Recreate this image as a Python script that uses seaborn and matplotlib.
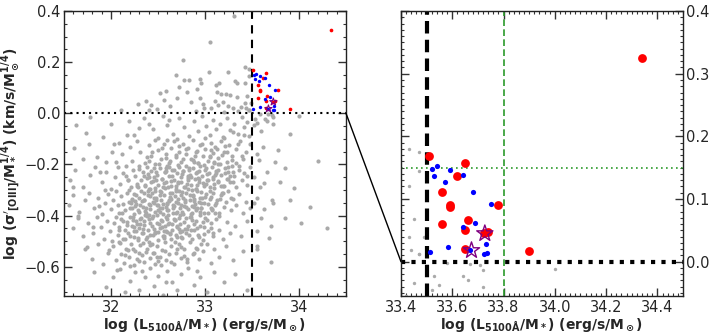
import matplotlib
matplotlib.use("Agg")
import matplotlib.pyplot as plt
from matplotlib.patches import ConnectionPatch
from matplotlib.ticker import MultipleLocator
import pandas as pd
import seaborn as sns

# parent sample (grey cloud)
cloud_top = [
    (33.31, 0.38), (33.05, 0.28), (32.77, 0.21), (33.04, 0.16), (33.24, 0.16), (33.43, 0.18),
    (33.47, 0.175), (32.69, 0.15), (32.78, 0.13), (32.83, 0.13), (32.95, 0.135), (32.96, 0.12),
    (33.15, 0.118), (33.12, 0.112), (33.32, 0.127), (33.34, 0.118), (33.43, 0.12), (33.47, 0.145),
]
cloud_upper = [
    (32.92, 0.097), (32.52, 0.078), (32.58, 0.088), (32.81, 0.084), (32.95, 0.058), (33.13, 0.084),
    (33.17, 0.075), (33.22, 0.075), (33.27, 0.072), (33.34, 0.062), (33.45, 0.068), (32.37, 0.048),
    (32.29, 0.035), (32.85, 0.044), (32.98, 0.035), (33.11, 0.05), (33.14, 0.032), (33.19, 0.045),
    (33.25, 0.03), (33.3, 0.022), (33.38, 0.025), (33.43, 0.04), (33.47, 0.012), (33.44, 0.019),
    (32.11, 0.013), (32.4, 0.013), (32.49, 0.018), (33.06, 0.022), (32.99, 0.02), (32.7, 0.06),
    (32.63, 0.03), (32.9, 0.01), (33.2, 0.005), (33.35, 0.008), (33.49, 0.039), (33.47, 0.013),
]
cloud_zero = [
    (31.78, -0.013), (32.19, -0.03), (32.0, -0.04), (31.63, -0.047), (31.91, -0.091), (32.35, -0.02),
    (32.45, -0.06), (32.55, -0.01), (32.6, -0.045), (32.66, -0.08), (32.72, -0.02), (32.78, -0.055),
    (32.83, -0.09), (32.88, -0.03), (32.93, -0.07), (32.97, -0.012), (33.01, -0.05), (33.05, -0.085),
    (33.08, -0.025), (33.12, -0.06), (33.16, -0.04), (33.2, -0.095), (33.23, -0.02), (33.27, -0.065),
    (33.31, -0.04), (33.35, -0.08), (33.39, -0.015), (33.42, -0.055), (33.45, -0.034), (33.47, -0.09),
    (33.53, -0.023), (33.55, -0.037), (33.52, -0.045), (33.58, -0.002), (33.64, -0.023), (33.67, -0.003),
    (33.71, -0.006), (33.72, -0.013), (33.66, -0.03), (33.72, -0.04), (34.0, -0.011), (32.25, -0.085),
    (32.5, -0.095), (32.4, -0.04), (32.7, -0.1), (33.0, -0.098), (33.6, -0.07), (33.9, -0.08),
]
cloud_d = [
    (31.77, -0.12), (31.61, -0.134), (32.03, -0.12), (32.08, -0.115), (31.85, -0.17), (31.95, -0.19),
    (32.12, -0.16), (32.2, -0.13), (32.22, -0.185), (32.28, -0.11), (32.31, -0.15), (32.36, -0.195),
    (32.4, -0.125), (32.43, -0.165), (32.47, -0.105), (32.5, -0.145), (32.53, -0.18), (32.56, -0.12),
    (32.59, -0.16), (32.62, -0.195), (32.64, -0.135), (32.67, -0.11), (32.69, -0.17), (32.72, -0.15),
    (32.75, -0.19), (32.77, -0.12), (32.8, -0.16), (32.82, -0.135), (32.85, -0.18), (32.87, -0.105),
    (32.9, -0.15), (32.93, -0.195), (32.95, -0.125), (32.98, -0.165), (33.0, -0.14), (33.03, -0.185),
    (33.06, -0.115), (33.08, -0.155), (33.11, -0.13), (33.14, -0.175), (33.17, -0.11), (33.2, -0.15),
    (33.23, -0.19), (33.26, -0.125), (33.29, -0.165), (33.33, -0.14), (33.37, -0.11), (33.4, -0.18),
    (33.44, -0.15), (33.48, -0.12), (33.55, -0.16), (33.62, -0.13), (33.75, -0.19), (32.6, -0.105),
    (32.88, -0.19), (33.1, -0.195), (32.38, -0.17),
]
cloud_e = [
    (31.56, -0.26), (31.62, -0.22), (31.7, -0.29), (31.78, -0.24), (31.83, -0.21), (31.9, -0.27),
    (31.95, -0.23), (32.0, -0.295), (32.04, -0.25), (32.07, -0.21), (32.1, -0.275), (32.13, -0.235),
    (32.16, -0.205), (32.18, -0.26), (32.21, -0.29), (32.23, -0.22), (32.26, -0.245), (32.28, -0.275),
    (32.3, -0.205), (32.32, -0.26), (32.34, -0.23), (32.36, -0.285), (32.38, -0.21), (32.4, -0.25),
    (32.41, -0.295), (32.43, -0.225), (32.45, -0.265), (32.47, -0.2), (32.49, -0.24), (32.5, -0.28),
    (32.52, -0.215), (32.54, -0.255), (32.55, -0.29), (32.57, -0.23), (32.59, -0.27), (32.6, -0.205),
    (32.62, -0.245), (32.64, -0.285), (32.65, -0.22), (32.67, -0.26), (32.69, -0.295), (32.7, -0.235),
    (32.72, -0.21), (32.74, -0.27), (32.75, -0.25), (32.77, -0.225), (32.79, -0.29), (32.8, -0.205),
    (32.82, -0.26), (32.84, -0.24), (32.85, -0.28), (32.87, -0.215), (32.89, -0.255), (32.9, -0.295),
    (32.92, -0.23), (32.94, -0.27), (32.95, -0.205), (32.97, -0.245), (32.99, -0.285), (33.0, -0.22),
    (33.02, -0.26), (33.04, -0.235), (33.05, -0.29), (33.07, -0.21), (33.09, -0.25), (33.1, -0.275),
    (33.12, -0.225), (33.14, -0.265), (33.16, -0.2), (33.17, -0.24), (33.19, -0.285), (33.21, -0.215),
    (33.23, -0.255), (33.25, -0.23), (33.27, -0.27), (33.29, -0.205), (33.31, -0.245), (33.33, -0.29),
    (33.36, -0.22), (33.39, -0.26), (33.42, -0.235), (33.45, -0.28), (33.48, -0.21), (33.52, -0.25),
    (33.58, -0.29), (33.66, -0.23), (33.8, -0.27), (32.48, -0.262), (32.71, -0.272), (32.93, -0.252),
    (33.11, -0.242), (32.58, -0.212), (32.83, -0.222),
]
cloud_f = [
    (31.55, -0.36), (31.6, -0.32), (31.66, -0.385), (31.72, -0.34), (31.77, -0.31), (31.82, -0.37),
    (31.86, -0.33), (31.9, -0.395), (31.94, -0.35), (31.97, -0.315), (32.0, -0.375), (32.02, -0.34),
    (32.05, -0.305), (32.07, -0.36), (32.09, -0.39), (32.11, -0.325), (32.13, -0.355), (32.15, -0.38),
    (32.17, -0.31), (32.19, -0.345), (32.2, -0.37), (32.22, -0.335), (32.24, -0.395), (32.25, -0.315),
    (32.27, -0.355), (32.29, -0.38), (32.3, -0.33), (32.32, -0.305), (32.34, -0.365), (32.35, -0.34),
    (32.37, -0.39), (32.39, -0.32), (32.4, -0.355), (32.42, -0.375), (32.44, -0.31), (32.45, -0.345),
    (32.47, -0.385), (32.48, -0.33), (32.5, -0.36), (32.52, -0.305), (32.53, -0.34), (32.55, -0.395),
    (32.56, -0.32), (32.58, -0.365), (32.6, -0.35), (32.61, -0.38), (32.63, -0.31), (32.64, -0.335),
    (32.66, -0.37), (32.68, -0.325), (32.69, -0.39), (32.71, -0.35), (32.72, -0.305), (32.74, -0.36),
    (32.76, -0.385), (32.77, -0.33), (32.79, -0.345), (32.8, -0.31), (32.82, -0.375), (32.84, -0.34),
    (32.85, -0.395), (32.87, -0.32), (32.89, -0.355), (32.9, -0.38), (32.92, -0.305), (32.94, -0.345),
    (32.96, -0.37), (32.97, -0.33), (32.99, -0.39), (33.01, -0.315), (33.03, -0.355), (33.05, -0.335),
    (33.07, -0.38), (33.09, -0.31), (33.11, -0.36), (33.13, -0.34), (33.15, -0.39), (33.17, -0.32),
    (33.2, -0.365), (33.22, -0.345), (33.25, -0.305), (33.28, -0.38), (33.3, -0.335), (33.33, -0.36),
    (33.36, -0.315), (33.4, -0.39), (33.44, -0.345), (33.48, -0.37), (33.55, -0.33), (33.63, -0.375),
    (33.72, -0.35), (33.9, -0.34), (32.26, -0.362), (32.46, -0.352), (32.62, -0.342), (32.78, -0.362),
    (32.96, -0.352), (32.36, -0.382), (32.54, -0.372), (32.7, -0.385), (32.88, -0.335), (33.06, -0.372),
]
cloud_g = [
    (31.6, -0.45), (31.65, -0.41), (31.7, -0.48), (31.76, -0.43), (31.81, -0.47), (31.85, -0.405),
    (31.89, -0.445), (31.93, -0.49), (31.96, -0.42), (31.99, -0.46), (32.01, -0.5), (32.03, -0.43),
    (32.05, -0.405), (32.07, -0.475), (32.09, -0.445), (32.11, -0.415), (32.13, -0.49), (32.15, -0.455),
    (32.17, -0.425), (32.18, -0.47), (32.2, -0.405), (32.22, -0.44), (32.24, -0.485), (32.25, -0.46),
    (32.27, -0.42), (32.29, -0.495), (32.3, -0.45), (32.32, -0.41), (32.34, -0.47), (32.35, -0.435),
    (32.37, -0.49), (32.39, -0.455), (32.4, -0.415), (32.42, -0.475), (32.44, -0.44), (32.45, -0.4),
    (32.47, -0.465), (32.49, -0.43), (32.5, -0.495), (32.52, -0.45), (32.54, -0.42), (32.55, -0.48),
    (32.57, -0.44), (32.59, -0.405), (32.6, -0.465), (32.62, -0.43), (32.64, -0.49), (32.65, -0.455),
    (32.67, -0.415), (32.69, -0.475), (32.7, -0.445), (32.72, -0.41), (32.74, -0.485), (32.76, -0.46),
    (32.78, -0.425), (32.8, -0.47), (32.82, -0.44), (32.84, -0.405), (32.86, -0.49), (32.88, -0.455),
    (32.9, -0.42), (32.93, -0.475), (32.95, -0.44), (32.98, -0.495), (33.0, -0.41), (33.03, -0.46),
    (33.06, -0.43), (33.09, -0.48), (33.12, -0.415), (33.15, -0.455), (33.19, -0.49), (33.23, -0.425),
    (33.27, -0.47), (33.32, -0.44), (33.38, -0.48), (33.45, -0.42), (33.55, -0.46), (33.7, -0.44),
    (33.85, -0.41), (34.02, -0.43), (34.3, -0.45), (32.28, -0.432), (32.46, -0.452), (32.63, -0.472),
    (32.81, -0.452), (32.38, -0.402), (32.56, -0.462), (32.73, -0.432),
]
cloud_h = [
    (31.72, -0.53), (31.8, -0.57), (31.86, -0.51), (31.92, -0.59), (31.97, -0.545), (32.02, -0.52),
    (32.05, -0.575), (32.08, -0.505), (32.11, -0.55), (32.14, -0.585), (32.16, -0.53), (32.19, -0.56),
    (32.21, -0.51), (32.24, -0.595), (32.26, -0.54), (32.28, -0.57), (32.31, -0.515), (32.33, -0.555),
    (32.35, -0.58), (32.38, -0.53), (32.4, -0.505), (32.42, -0.565), (32.45, -0.545), (32.47, -0.59),
    (32.49, -0.52), (32.52, -0.56), (32.54, -0.535), (32.57, -0.505), (32.59, -0.575), (32.62, -0.55),
    (32.64, -0.52), (32.67, -0.59), (32.69, -0.545), (32.72, -0.51), (32.75, -0.565), (32.78, -0.53),
    (32.81, -0.58), (32.84, -0.505), (32.87, -0.55), (32.9, -0.525), (32.94, -0.57), (32.98, -0.54),
    (33.02, -0.51), (33.06, -0.585), (33.1, -0.53), (33.15, -0.56), (33.22, -0.52), (33.3, -0.575),
    (33.4, -0.54), (33.55, -0.53), (33.7, -0.58), (32.3, -0.545), (32.5, -0.578), (32.7, -0.532),
    (32.18, -0.535), (32.44, -0.512),
]
cloud_low = [
    (31.82, -0.62), (31.95, -0.68), (32.02, -0.64), (32.1, -0.61), (32.15, -0.7), (32.2, -0.655),
    (32.26, -0.62), (32.3, -0.69), (32.36, -0.64), (32.41, -0.605), (32.46, -0.675), (32.5, -0.635),
    (32.55, -0.71), (32.6, -0.615), (32.65, -0.66), (32.7, -0.69), (32.75, -0.63), (32.82, -0.605),
    (32.88, -0.67), (32.95, -0.64), (33.02, -0.7), (33.1, -0.62), (33.2, -0.66), (33.32, -0.63),
    (33.45, -0.69), (32.33, -0.615), (32.58, -0.66), (32.92, -0.615),
]
# extra points in the crowded core of the cloud
core_a = [
    (32.541, -0.134), (32.917, -0.148), (33.214, -0.127), (32.688, -0.163), (33.056, -0.171), (32.402, -0.186),
    (32.803, -0.139), (33.327, -0.196), (32.619, -0.211), (32.986, -0.203), (32.477, -0.228), (33.143, -0.221),
    (32.751, -0.237), (32.349, -0.244), (33.262, -0.246), (32.873, -0.181), (32.584, -0.174), (33.021, -0.238),
    (32.711, -0.202), (32.939, -0.226), (32.437, -0.151), (33.178, -0.164), (32.826, -0.214), (32.652, -0.246),
    (33.098, -0.192), (32.512, -0.197), (32.294, -0.219), (33.389, -0.168), (32.764, -0.178), (32.968, -0.121),
    (32.573, -0.231), (33.241, -0.209), (32.846, -0.249), (32.391, -0.238), (33.067, -0.144), (32.629, -0.187),
    (32.893, -0.166), (33.302, -0.231), (32.724, -0.129), (32.455, -0.212),
]
core_b = [
    (32.183, -0.262), (32.561, -0.271), (32.937, -0.258), (33.204, -0.283), (32.406, -0.296), (32.778, -0.289),
    (33.052, -0.302), (32.271, -0.318), (32.649, -0.311), (32.998, -0.327), (32.334, -0.341), (32.712, -0.336),
    (33.119, -0.349), (32.489, -0.358), (32.861, -0.364), (32.228, -0.372), (32.595, -0.377), (32.954, -0.369),
    (33.273, -0.331), (32.427, -0.267), (32.816, -0.253), (33.141, -0.268), (32.362, -0.281), (32.693, -0.284),
    (33.011, -0.277), (32.529, -0.306), (32.904, -0.296), (32.197, -0.301), (32.621, -0.339), (32.987, -0.351),
    (32.455, -0.331), (32.839, -0.321), (33.186, -0.311), (32.304, -0.357), (32.672, -0.362), (33.078, -0.374),
    (32.541, -0.257), (32.748, -0.319), (32.413, -0.322), (32.887, -0.343), (32.251, -0.344), (33.242, -0.257),
    (32.579, -0.293), (32.962, -0.306), (32.371, -0.369), (32.733, -0.371), (33.031, -0.259), (32.502, -0.379),
    (32.811, -0.278), (32.637, -0.263), (33.158, -0.336), (32.289, -0.287), (32.918, -0.371), (32.468, -0.302),
    (32.691, -0.347), (33.094, -0.293), (32.347, -0.311), (32.859, -0.299), (32.214, -0.351), (32.601, -0.354),
]
core_c = [
    (32.112, -0.391), (32.487, -0.397), (32.862, -0.388), (33.147, -0.402), (32.305, -0.412), (32.681, -0.419),
    (32.979, -0.426), (32.173, -0.437), (32.546, -0.443), (32.913, -0.449), (32.261, -0.461), (32.628, -0.467),
    (32.991, -0.472), (32.378, -0.484), (32.757, -0.489), (32.144, -0.493), (32.521, -0.386), (32.803, -0.411),
    (33.061, -0.447), (32.419, -0.428), (32.706, -0.441), (32.233, -0.406), (32.594, -0.412), (32.951, -0.397),
    (32.341, -0.452), (32.739, -0.463), (33.102, -0.389), (32.472, -0.468), (32.829, -0.476), (32.198, -0.478),
    (32.563, -0.487), (32.887, -0.431), (32.089, -0.456), (32.662, -0.391), (33.024, -0.418), (32.401, -0.396),
    (32.784, -0.452), (32.283, -0.488), (32.611, -0.431), (32.941, -0.483), (32.356, -0.421), (32.701, -0.482),
    (32.507, -0.434), (32.851, -0.405), (32.128, -0.421), (32.447, -0.476), (32.768, -0.395), (33.081, -0.468),
    (32.247, -0.445), (32.582, -0.459),
]
core_d = [
    (32.092, -0.508), (32.413, -0.516), (32.745, -0.524), (32.957, -0.511), (32.236, -0.532), (32.571, -0.539),
    (32.879, -0.547), (32.153, -0.556), (32.488, -0.561), (32.811, -0.569), (32.297, -0.577), (32.637, -0.583),
    (32.372, -0.541), (32.684, -0.503), (32.531, -0.592), (32.207, -0.596), (32.918, -0.529), (32.456, -0.548),
    (32.773, -0.557), (32.341, -0.509),
]
core_e = [
    (32.523, -0.318), (32.817, -0.247), (32.364, -0.396), (33.009, -0.214), (32.645, -0.432), (32.276, -0.283),
    (32.951, -0.332), (32.587, -0.224), (32.733, -0.397), (33.168, -0.286), (32.419, -0.358), (32.866, -0.418),
    (32.502, -0.463), (33.063, -0.329), (32.687, -0.305), (32.312, -0.432), (32.929, -0.193), (32.558, -0.356),
    (32.791, -0.338), (33.117, -0.233), (32.453, -0.248), (32.672, -0.221), (32.884, -0.365), (32.239, -0.416),
    (33.037, -0.391), (32.611, -0.287), (32.847, -0.458), (32.392, -0.303), (32.974, -0.271), (32.728, -0.453),
    (32.536, -0.417), (33.214, -0.233), (32.659, -0.358), (32.907, -0.232), (32.328, -0.467), (33.089, -0.256),
    (32.771, -0.224), (32.482, -0.339), (32.823, -0.296), (32.569, -0.478), (33.141, -0.198), (32.297, -0.384),
    (32.714, -0.268), (32.993, -0.443), (32.441, -0.409), (32.632, -0.327), (32.868, -0.322), (32.386, -0.253),
    (33.052, -0.166), (32.753, -0.306), (32.519, -0.371), (32.944, -0.387), (32.224, -0.338), (32.603, -0.398),
    (32.799, -0.368), (33.191, -0.312), (32.466, -0.292), (32.917, -0.279), (32.351, -0.339), (32.683, -0.418),
    (33.284, -0.181), (33.351, -0.121), (33.237, -0.152), (33.412, -0.086), (33.293, -0.072), (33.361, -0.207),
    (33.189, -0.094), (33.128, -0.141), (33.452, -0.245), (33.301, -0.268),
]
cloud_edge = [
    (31.703, -0.178), (31.884, -0.231), (32.057, -0.191), (31.936, -0.298), (31.651, -0.402), (32.013, -0.152),
    (31.812, -0.446), (32.172, -0.083), (31.746, -0.521), (32.294, -0.058), (31.592, -0.288), (32.064, -0.612),
    (31.977, -0.534), (32.161, -0.247), (31.872, -0.361), (31.732, -0.076), (32.427, 0.031), (32.569, 0.052),
    (32.728, 0.102), (32.616, -0.028), (33.572, -0.181), (33.631, -0.274), (33.716, -0.338), (33.853, -0.212),
    (33.592, -0.411), (33.684, -0.488), (33.947, -0.291), (34.118, -0.368), (33.778, -0.142), (33.521, -0.352),
    (33.551, -0.517), (34.205, -0.186),
]

# selected objects
red_x = [33.51, 33.65, 33.62, 33.56, 33.59, 33.59, 33.78, 33.66, 33.56, 33.65, 33.74, 33.65, 33.90, 34.34, 33.725]
red_y = [0.169, 0.157, 0.137, 0.112, 0.091, 0.087, 0.090, 0.066, 0.060, 0.050, 0.048, 0.020, 0.017, 0.325, 0.045]
blue_x = [33.52, 33.54, 33.59, 33.53, 33.64, 33.57, 33.68, 33.75, 33.69, 33.64, 33.73, 33.585, 33.515, 33.67, 33.725, 33.735]
blue_y = [0.148, 0.152, 0.147, 0.136, 0.139, 0.127, 0.111, 0.092, 0.062, 0.056, 0.029, 0.024, 0.016, 0.018, 0.012, 0.0145]
star_x = [33.727, 33.675]
star_y = [0.045, 0.018]

L_CUT = 33.5
L_CUT2 = 33.8
S_CUT = 0.0
S_CUT2 = 0.15

XLABEL = r"log (L$_{5100Å}$/M$_*$) (erg/s/M$_\odot$)"
YLABEL = r"log ($\sigma'_{[OIII]}$/M$_*^{1/4}$) (km/s/M$_\odot^{1/4}$)"

cloud = pd.DataFrame(
    cloud_top + cloud_upper + cloud_zero + cloud_d + cloud_e + cloud_f + cloud_g + cloud_h + cloud_low
    + core_a + core_b + core_c + core_d + core_e + cloud_edge,
    columns=["logL", "logsig"],
)
red = pd.DataFrame({"logL": red_x, "logsig": red_y})
blue = pd.DataFrame({"logL": blue_x, "logsig": blue_y})
stars = pd.DataFrame({"logL": star_x, "logsig": star_y})

sns.set_style("ticks")
plt.rcParams["font.family"] = ["DejaVu Sans"]
plt.rcParams["mathtext.default"] = "bf"


def style_axes(ax, xmaj, xmin, ymaj, ymin):
    ax.xaxis.set_major_locator(MultipleLocator(xmaj))
    ax.xaxis.set_minor_locator(MultipleLocator(xmin))
    ax.yaxis.set_major_locator(MultipleLocator(ymaj))
    ax.yaxis.set_minor_locator(MultipleLocator(ymin))
    ax.tick_params(which="both", direction="in", top=True, right=True, labelsize=10.5,
                   color="#333333", pad=2.5)
    ax.tick_params(which="major", length=6, width=1)
    ax.tick_params(which="minor", length=2.5, width=0.8)
    for sp in ax.spines.values():
        sp.set_linewidth(1.0)
        sp.set_color("#222222")
    ax.set_xlabel(XLABEL, fontsize=10, fontweight="bold", labelpad=1)


fig = plt.figure(figsize=(7.14, 3.35), dpi=100)
ax1 = fig.add_axes([0.0896, 0.116, 0.395, 0.851])
ax2 = fig.add_axes([0.5616, 0.116, 0.395, 0.851])

# left: full sample
sns.scatterplot(data=cloud, x="logL", y="logsig", color="#aaaaaa", s=9, linewidth=0, ax=ax1, zorder=1)
sns.scatterplot(data=red, x="logL", y="logsig", color="red", s=7, linewidth=0, ax=ax1, zorder=3)
sns.scatterplot(data=blue, x="logL", y="logsig", color="blue", s=6, linewidth=0, ax=ax1, zorder=3)
sns.scatterplot(data=stars, x="logL", y="logsig", marker="*", s=30, facecolor="none",
                edgecolor="purple", linewidth=0.8, ax=ax1, zorder=4)
ax1.axvline(L_CUT, color="black", ls=(0, (4, 3)), lw=1.5, zorder=2)
ax1.axhline(S_CUT, color="black", ls=(0, (1, 2)), lw=1.5, zorder=2)
ax1.set_xlim(31.5, 34.5)
ax1.set_ylim(-0.715, 0.4)
style_axes(ax1, 1, 0.1, 0.2, 0.05)
ax1.set_ylabel(YLABEL, fontsize=10, fontweight="bold", labelpad=1)

# right: zoom on the selected region
sns.scatterplot(data=cloud, x="logL", y="logsig", color="#aaaaaa", s=6, linewidth=0, ax=ax2, zorder=1)
sns.scatterplot(data=red, x="logL", y="logsig", color="red", s=40, linewidth=0, ax=ax2, zorder=3)
sns.scatterplot(data=blue, x="logL", y="logsig", color="blue", s=14, linewidth=0, ax=ax2, zorder=3)
sns.scatterplot(data=stars, x="logL", y="logsig", marker="*", s=150, facecolor="none",
                edgecolor="purple", linewidth=1.0, ax=ax2, zorder=4)
ax2.axvline(L_CUT, color="black", ls=(0, (3, 1.5)), lw=3, zorder=2)
ax2.axhline(S_CUT, color="black", ls=(0, (1, 1.5)), lw=3, zorder=2)
ax2.axvline(L_CUT2, color="#2a9a2a", ls=(0, (4, 2)), lw=1.2, zorder=2)
ax2.axhline(S_CUT2, color="#2a9a2a", ls=(0, (1, 2)), lw=1.2, zorder=2)
ax2.set_xlim(33.4, 34.5)
ax2.set_ylim(-0.055, 0.4)
style_axes(ax2, 0.2, 0.02, 0.1, 0.01)
ax2.yaxis.tick_right()
ax2.tick_params(which="both", left=True, right=True, labelleft=False, labelright=True)
ax2.set_ylabel("")

con = ConnectionPatch(xyA=(34.5, S_CUT), coordsA=ax1.transData,
                      xyB=(33.4, S_CUT), coordsB=ax2.transData, color="black", lw=1.0)
fig.add_artist(con)

fig.savefig("out.png", dpi=100)
